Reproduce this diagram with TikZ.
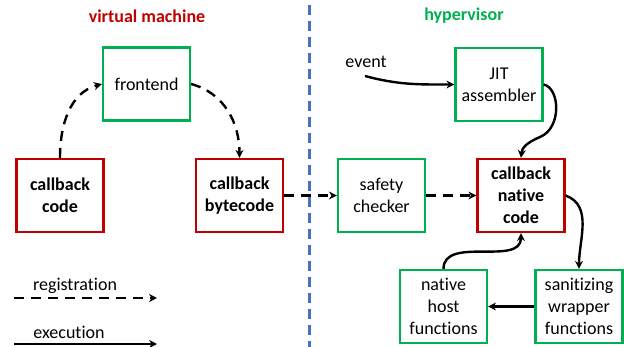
\documentclass[tikz,border=0pt]{standalone}
\usepackage{fontspec}
\setmainfont{Carlito}[Ligatures=NoCommon]
\usetikzlibrary{arrows.meta}
\definecolor{boxred}{HTML}{C00000}
\definecolor{boxgreen}{HTML}{00B050}
\definecolor{divblue}{HTML}{4472C4}
\tikzset{
  gbox/.style={draw=boxgreen, line width=2.2pt, minimum width=87pt, minimum height=73pt, align=center, inner sep=2pt, font=\fontsize{18}{22}\selectfont},
  rbox/.style={draw=boxred, line width=2.2pt, minimum width=87pt, minimum height=73pt, align=center, inner sep=2pt, font=\fontsize{18}{22}\selectfont\bfseries},
  exe/.style={line width=2.4pt, -{Stealth[length=8pt,width=8pt]}},
  reg/.style={line width=2.4pt, dash pattern=on 10pt off 7pt, -{Stealth[length=8pt,width=8pt]}},
  lbl/.style={font=\fontsize{18}{22}\selectfont, inner sep=0pt},
  ttl/.style={font=\fontsize{18}{22}\selectfont\bfseries, inner sep=0pt}
}
\begin{document}
\begin{tikzpicture}[x=1pt,y=-1pt]
\useasboundingbox (0,0) rectangle (624,347);
% titles
\node[ttl, text=boxred] (tvm) at (147,16) {virtual machine};
\node[ttl, text=boxgreen] (thv) at (464,16) {hypervisor};
% divider
\draw[divblue, line width=3pt, dash pattern=on 10pt off 6pt] (309,5) coordinate (d1) -- (309,347) coordinate (d2);
% boxes
\node[gbox] (fe) at (146.5,84) {frontend};
\node[rbox] (cc) at (60,195.5) {callback\\code};
\node[rbox] (cb) at (239.5,195.5) {callback\\bytecode};
\node[gbox] (jit) at (499,84.5) {JIT\\assembler};
\node[gbox] (sc) at (381.5,195.5) {safety\\checker};
\node[rbox] (nc) at (521,195.5) {callback\\native\\code};
\node[gbox] (nh) at (443.5,306.5) {native\\host\\functions};
\node[gbox] (sw) at (579,306.5) {sanitizing\\wrapper\\functions};
% event
\node[lbl] (ev) at (366,62) {event};
\coordinate (evs) at (365,76);
% registration arrows
\draw[reg] (cc.north) to[out=90,in=195] (fe.west);
\draw[reg] (fe.east) to[out=-15,in=90] (cb.north);
\draw[reg] (cb.east) -- (sc.west);
\draw[reg] (sc.east) -- (nc.west);
% execution arrows
\draw[exe] (evs) to[out=-15,in=180] (jit.west);
\draw[exe] (jit.east) .. controls (560,88) and (562,128) .. (540,137) .. controls (526,143) and (522,148) .. (nc.north);
\draw[exe] (nc.east) to[out=-20,in=90] (sw.north);
\draw[exe] (sw.west) -- (nh.east);
\draw[exe] (nh.north) to[out=90,in=-90] (nc.south);
% legend
\node[lbl] (lr) at (75,286) {registration};
\node[lbl] (le) at (69,332) {execution};
\coordinate (r1) at (14,298);
\coordinate (r2) at (157,298);
\coordinate (e1) at (14,344);
\coordinate (e2) at (157,344);
\draw[reg] (r1) -- (r2);
\draw[exe] (e1) -- (e2);
\end{tikzpicture}
\end{document}
